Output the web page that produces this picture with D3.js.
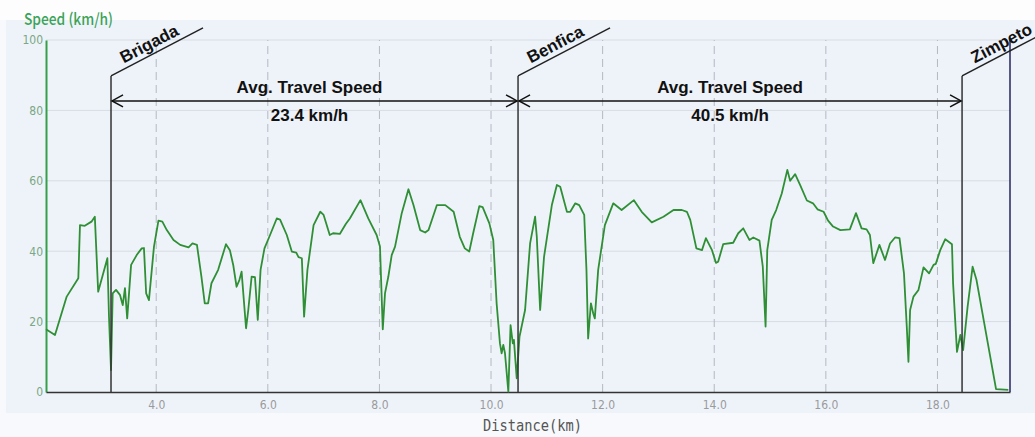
<!DOCTYPE html>
<html><head><meta charset="utf-8">
<script src="https://cdn.jsdelivr.net/npm/d3@7"></script>
<style>body{margin:0;background:#f7f9fc;} svg{display:block}</style>
</head><body><svg id="c" width="1035" height="437"></svg>
<script>
const distanceKm = [2.025,2.186,2.396,2.604,2.634,2.72,2.84,2.90,2.96,3.125,3.154,3.19,3.22,3.28,3.35,3.40,3.44,3.48,3.55,3.65,3.74,3.78,3.82,3.87,3.96,4.04,4.11,4.19,4.31,4.43,4.58,4.65,4.73,4.81,4.87,4.93,4.99,5.11,5.25,5.32,5.38,5.44,5.49,5.53,5.61,5.65,5.71,5.77,5.82,5.87,5.94,6.04,6.16,6.22,6.34,6.43,6.51,6.55,6.61,6.65,6.71,6.82,6.94,7.0,7.11,7.17,7.29,7.40,7.47,7.66,7.80,7.95,8.01,8.06,8.10,8.16,8.22,8.28,8.40,8.52,8.61,8.73,8.82,8.88,9.03,9.18,9.33,9.44,9.53,9.61,9.68,9.79,9.85,9.97,10.04,10.10,10.16,10.19,10.22,10.25,10.31,10.35,10.39,10.41,10.46,10.51,10.61,10.70,10.79,10.82,10.88,10.95,11.09,11.18,11.24,11.36,11.42,11.51,11.58,11.67,11.71,11.74,11.79,11.83,11.86,11.92,12.04,12.19,12.34,12.56,12.70,12.88,13.09,13.27,13.42,13.51,13.57,13.68,13.78,13.85,13.96,14.03,14.07,14.16,14.34,14.43,14.52,14.63,14.70,14.81,14.87,14.92,14.95,15.03,15.11,15.21,15.31,15.36,15.45,15.54,15.66,15.77,15.85,15.96,16.04,16.13,16.26,16.43,16.54,16.64,16.73,16.79,16.85,16.96,17.06,17.15,17.24,17.32,17.40,17.45,17.48,17.51,17.57,17.66,17.75,17.85,17.93,17.97,18.05,18.14,18.26,18.28,18.35,18.41,18.46,18.54,18.63,18.70,19.05,19.27];
const speedKmh = [17.8,16.2,27.1,32.3,47.4,47.2,48.4,49.8,28.5,38.0,21.4,6.25,28,29,27.6,24.7,29.5,20.9,36.1,38.9,40.8,40.9,28,26.1,41.3,48.7,48.4,46,43.2,41.8,41.1,42.2,41.8,32.8,25.2,25.2,30.9,34.7,42,40.3,36.1,29.9,31.8,34.2,18.1,23.3,32.8,32.6,20.5,34.7,40.8,44.6,49.3,49.0,44.6,39.9,39.6,38.3,38,21.4,34.7,47.4,51.2,50.3,44.6,45.1,44.9,47.8,49.3,54.5,49.3,44.6,41.3,17.8,28,32.8,38.9,41.3,50.8,57.6,53.1,46,45.3,46,53.1,53.1,51.2,44.1,40.8,39.9,45.1,52.8,52.5,47.9,43.2,25.2,13.8,11,13.4,11,0.1,19,13.8,14.8,3.9,15.7,23.3,42.2,49.8,44.1,23.3,38.4,53.1,58.8,58.3,51.2,51.2,53.6,53.1,50.3,34.7,15.2,25.2,22.4,20.9,34.7,47.4,53.6,51.7,54.5,51.2,48.2,49.8,51.7,51.7,51.2,48.9,40.8,40.3,43.7,40.3,36.7,37.0,42,42.4,45.1,46.5,43.2,43.9,43,35.6,18.6,40.3,48.9,51.7,56.4,63.1,60,61.9,58.8,54.4,53.6,51.9,51.2,48.7,47.0,46,46.2,50.8,46.5,46.2,44.6,36.6,41.8,37.5,42.2,43.9,43.7,33.7,18.6,8.6,23.3,27.1,29,35.4,33.7,36.1,36.4,40.3,43.4,42,30.9,11.4,16.2,11.9,24.2,35.6,31.8,0.8,0.6];
const stationNames = ["Brigada","Benfica","Zimpeto"];
const stationKm = [3.19, 10.484, 18.441];
const avgSpeedLabels = ["23.4 km/h","40.5 km/h"];
const xTicks = [4,6,8,10,12,14,16,18];
const yTicks = [0,20,40,60,80,100];

const svg = d3.select("#c");
const x = d3.scaleLinear().domain([2.025,19.3]).range([46,1010]);
const y = d3.scaleLinear().domain([0,100]).range([392,40]);

svg.append("rect").attr("width",1035).attr("height",437).attr("fill","#f7f9fc");
svg.append("rect").attr("width",1035).attr("height",20).attr("fill","#fdfdfe");
svg.append("rect").attr("x",6).attr("y",20).attr("width",1029).attr("height",393).attr("fill","#eef3fa");

// horizontal grid
svg.append("g").selectAll("line").data(yTicks.filter(d=>d>0)).join("line")
  .attr("x1",x.range()[0]).attr("x2",x.range()[1])
  .attr("y1",d=>y(d)).attr("y2",d=>y(d))
  .attr("stroke","#d7dce3").attr("stroke-width",1);
// vertical dashed grid
svg.append("g").selectAll("line").data(xTicks).join("line")
  .attr("x1",d=>x(d)).attr("x2",d=>x(d))
  .attr("y1",y(0)).attr("y2",y(100))
  .attr("stroke","#b4b8bf").attr("stroke-width",1).attr("stroke-dasharray","8,5");

// axes
const yAxis = svg.append("g").attr("transform",`translate(${x.range()[0]},0)`)
  .call(d3.axisLeft(y).tickValues(yTicks).tickSize(0).tickSizeOuter(0).tickPadding(3));
yAxis.select(".domain").attr("stroke","#34a048").attr("stroke-width",2);
yAxis.selectAll("text").attr("fill","#7aa784").attr("font-family","'DejaVu Sans Condensed','DejaVu Sans',sans-serif").attr("font-size",12);

const xAxis = svg.append("g").attr("transform",`translate(0,${y(0)})`)
  .call(d3.axisBottom(x).tickValues(xTicks).tickFormat(d3.format(".1f")).tickSize(0).tickSizeOuter(0).tickPadding(8));
xAxis.select(".domain").attr("stroke","#333").attr("stroke-width",1.5);
xAxis.selectAll("text").attr("fill","#9a9a9a").attr("font-family","'DejaVu Sans Condensed','DejaVu Sans',sans-serif").attr("font-size",12);

// right border
svg.append("line").attr("x1",x.range()[1]).attr("x2",x.range()[1]).attr("y1",y(100)).attr("y2",y(0))
  .attr("stroke","#25255e").attr("stroke-width",1.5);

// speed line
const pts = distanceKm.map((d,i)=>[d,speedKmh[i]]);
svg.append("path").datum(pts)
  .attr("d",d3.line().x(d=>x(d[0])).y(d=>y(d[1])))
  .attr("fill","none").attr("stroke","#2f8f35").attr("stroke-width",1.8).attr("stroke-linejoin","round");

// stations
const topY = y(89.8);
const slope = Math.tan(27.6*Math.PI/180);
stationKm.forEach((km,i)=>{
  const sx = x(km);
  svg.append("line").attr("x1",sx).attr("x2",sx).attr("y1",y(0)).attr("y2",topY)
    .attr("stroke","#333").attr("stroke-width",1.5);
  svg.append("line").attr("x1",sx).attr("y1",topY).attr("x2",sx+92).attr("y2",topY-92*slope)
    .attr("stroke","#222").attr("stroke-width",1.5);
  svg.append("text").attr("transform",`translate(${sx},${topY}) rotate(-27.6)`)
    .attr("x",17).attr("y",-5)
    .attr("font-family","'Liberation Sans',Arial,sans-serif").attr("font-weight","bold").attr("font-size",17)
    .attr("fill","#111").text(stationNames[i]);
});

// avg speed arrows
const arrowY = y(82.7);
const labelShift = [-5,-10];
avgSpeedLabels.forEach((lab,i)=>{
  const a = x(stationKm[i])+1, b = x(stationKm[i+1])-1;
  svg.append("line").attr("x1",a).attr("x2",b).attr("y1",arrowY).attr("y2",arrowY)
    .attr("stroke","#111").attr("stroke-width",1.5);
  svg.append("path").attr("d",`M${a+11},${arrowY-6}L${a},${arrowY}L${a+11},${arrowY+6}`)
    .attr("fill","none").attr("stroke","#111").attr("stroke-width",1.5);
  svg.append("path").attr("d",`M${b-11},${arrowY-6}L${b},${arrowY}L${b-11},${arrowY+6}`)
    .attr("fill","none").attr("stroke","#111").attr("stroke-width",1.5);
  const cx = (a+b)/2 + labelShift[i];
  svg.append("text").attr("x",cx).attr("y",arrowY-7.5).attr("text-anchor","middle")
    .attr("font-family","'Liberation Sans',Arial,sans-serif").attr("font-weight","bold").attr("font-size",17)
    .attr("fill","#111").text("Avg. Travel Speed");
  svg.append("text").attr("x",cx).attr("y",arrowY+20).attr("text-anchor","middle")
    .attr("font-family","'Liberation Sans',Arial,sans-serif").attr("font-weight","bold").attr("font-size",17)
    .attr("fill","#111").text(lab);
});

// axis titles
svg.append("text").attr("x",24).attr("y",25)
  .attr("font-family","'Noto Sans CJK JP','Noto Sans',sans-serif").attr("font-size",16).attr("font-weight",500)
  .attr("fill","#3aa357").attr("textLength",89).attr("lengthAdjust","spacingAndGlyphs").text("Speed (km/h)");
svg.append("text").attr("x",483).attr("y",431)
  .attr("font-family","'DejaVu Sans Mono',monospace").attr("font-size",16)
  .attr("fill","#555").attr("textLength",99).attr("lengthAdjust","spacingAndGlyphs").text("Distance(km)");
</script></body></html>
